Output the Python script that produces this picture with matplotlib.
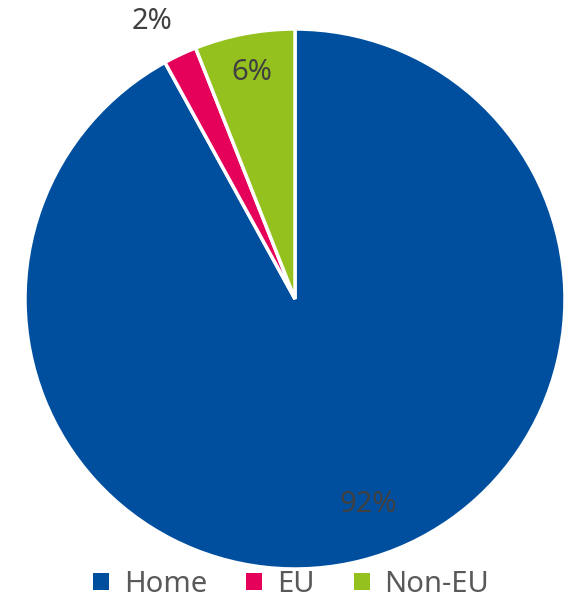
import matplotlib
matplotlib.use("Agg")
import numpy as np
from matplotlib import pyplot as plt
from matplotlib.patches import Patch

# data
categories = ["Home", "EU", "Non-EU"]
shares = [92, 2, 6]
colors = ["#004F9F", "#E5005A", "#95C11F"]
# label placement: radial fraction and angular nudge (degrees)
label_radius = [0.81, 1.155, 0.855]
label_nudge = [5.3, 2.1, 0.0]

plt.rcParams["font.family"] = ["Noto Sans", "DejaVu Sans"]

fig = plt.figure(figsize=(5.71, 6.0), dpi=100)
ax = fig.add_axes([25 / 571, 31 / 600, 540 / 571, 540 / 600])

wedges, _ = ax.pie(shares, colors=colors, startangle=90, counterclock=False,
                   radius=1.0,
                   wedgeprops=dict(edgecolor="white", linewidth=2.5))

total = sum(shares)
for w, v, r, d in zip(wedges, shares, label_radius, label_nudge):
    mid = np.deg2rad((w.theta1 + w.theta2) / 2 + d)
    ax.text(r * np.cos(mid), r * np.sin(mid), f"{v / total * 100:.0f}%",
            ha="center", va="center", fontsize=21, color="#404040")

ax.set_xlim(-1, 1)
ax.set_ylim(-1, 1)
ax.axis("off")

handles = [Patch(facecolor=c, edgecolor="none") for c in colors]
fig.legend(handles, categories, loc="center", ncol=3, frameon=False,
           bbox_to_anchor=(0.51, 0.026), fontsize=21, labelcolor="#595959",
           handlelength=0.55, handleheight=0.55, handletextpad=0.5,
           columnspacing=1.35, borderpad=0)

fig.savefig("out.png", dpi=100)
